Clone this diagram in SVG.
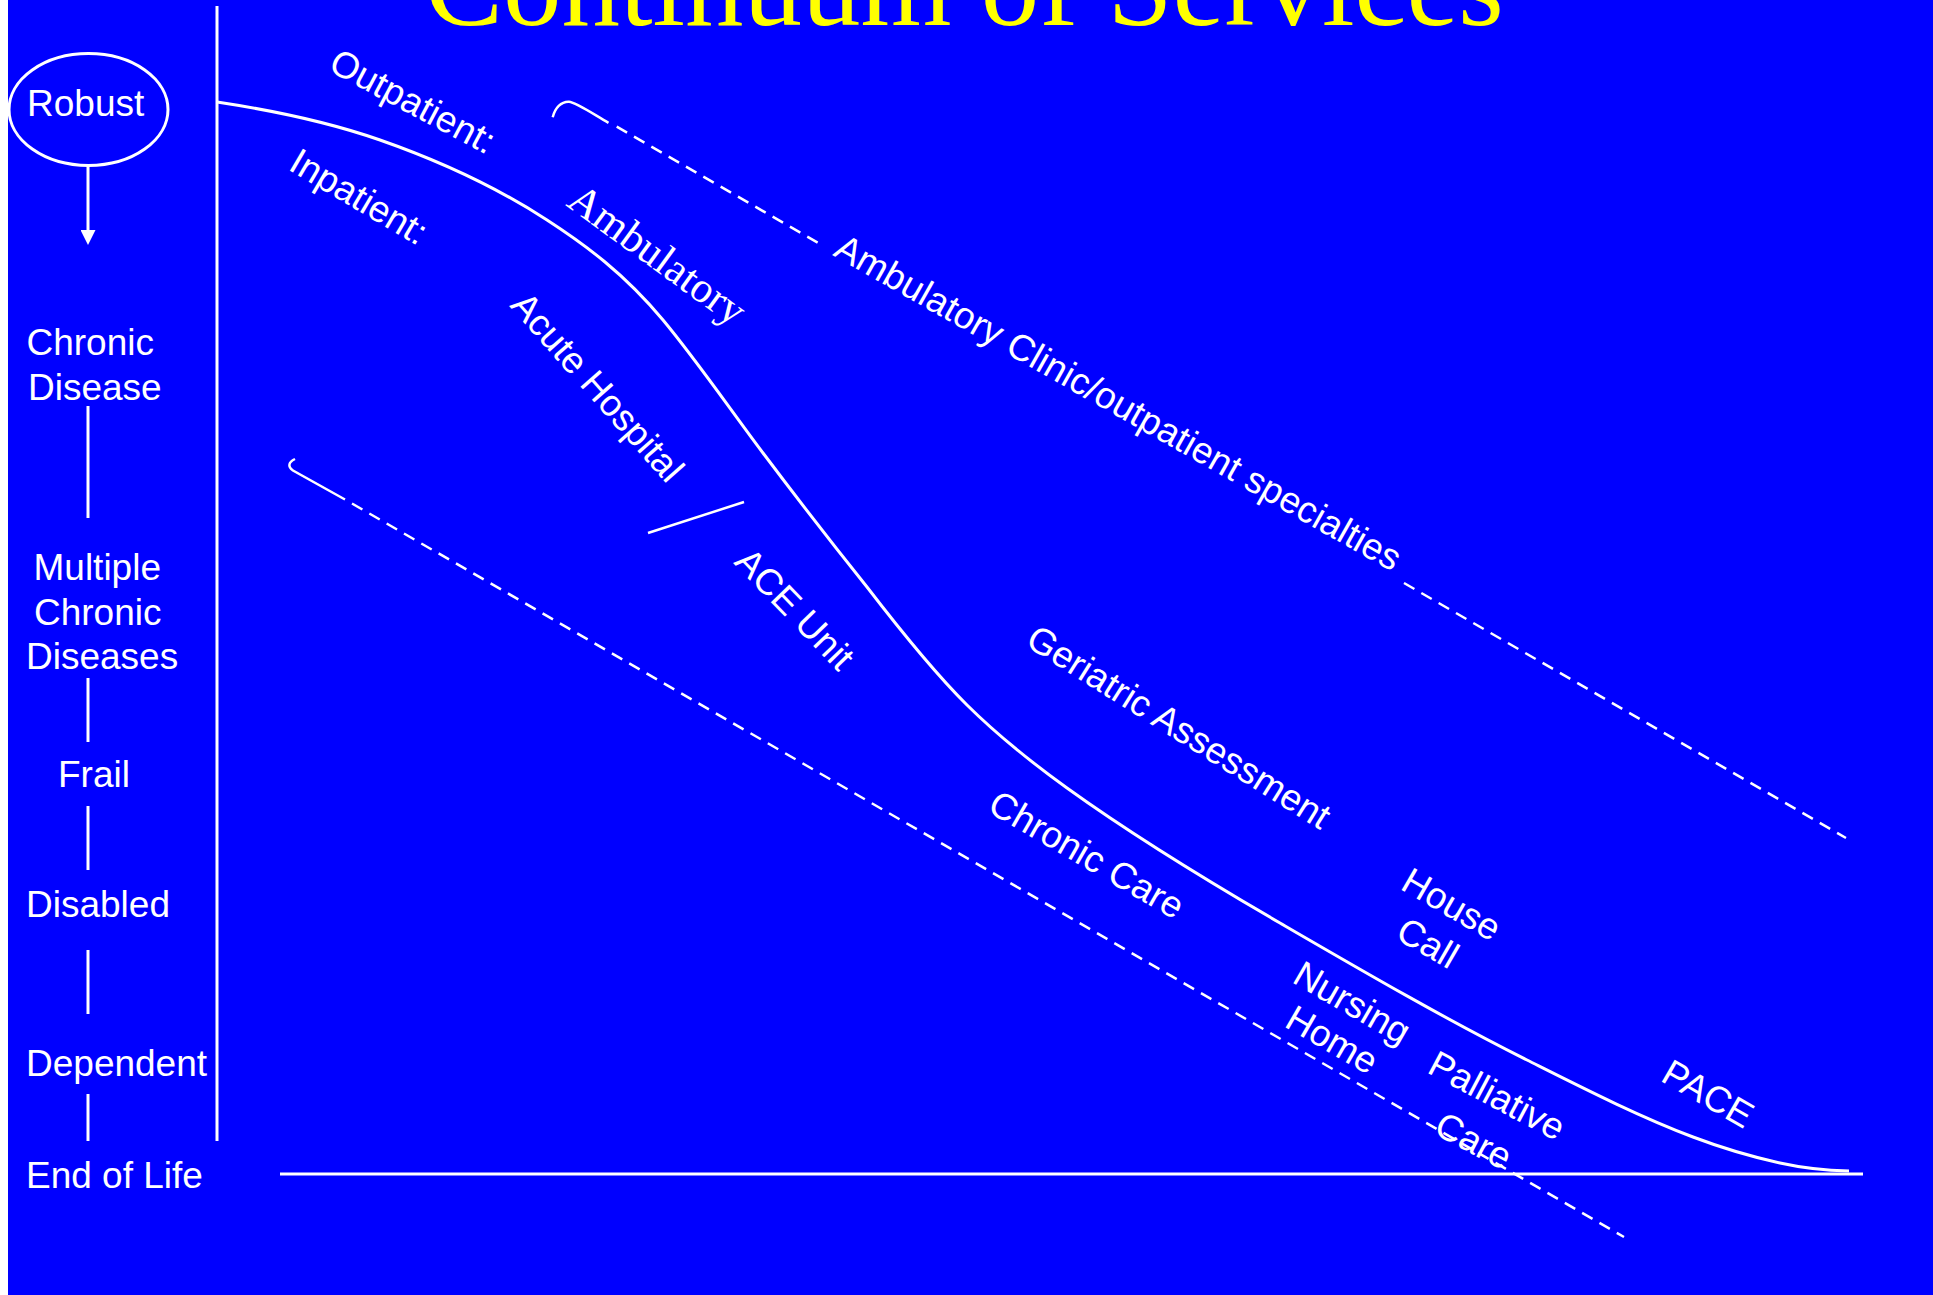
<svg xmlns="http://www.w3.org/2000/svg" width="1933" height="1295" viewBox="0 0 1933 1295">
  <defs>
    <style>
      .bg { fill: #0000FF; }
      .lbl { font-family: "Liberation Sans", Arial, sans-serif; font-size: 37px; fill: #FFFFFF; }
      .serif { font-family: "Liberation Serif", "Times New Roman", serif; fill: #FFFFFF; }
      .title { font-family: "Liberation Serif", "Times New Roman", serif; font-size: 117px; fill: #FFFF00; }
      .solid { stroke: #FFFFFF; stroke-width: 3; fill: none; stroke-linecap: butt; }
      .thin { stroke: #FFFFFF; stroke-width: 2.5; fill: none; }
      .dash { stroke: #FFFFFF; stroke-width: 2.5; fill: none; stroke-dasharray: 12 8; }
    </style>
    <marker id="arrow" viewBox="0 0 16 15" markerWidth="16" markerHeight="15" refX="0" refY="7.5" orient="auto" markerUnits="userSpaceOnUse">
      <path d="M0,0 L15,7.5 L0,15 z" fill="#FFFFFF"/>
    </marker>
  </defs>

  <rect x="0" y="0" width="1933" height="1295" fill="#FFFFFF"/>
  <rect class="bg" x="8" y="0" width="1925" height="1295"/>

  <g id="title">
    <text class="title" x="425" y="25">Continuum of Services</text>
  </g>

  <g id="chart">
    <line class="solid" x1="217" y1="6" x2="217" y2="1141"/>
    <line class="solid" x1="280" y1="1174" x2="1863" y2="1174"/>
    <path id="decline-curve" class="solid" d="M217,102 C271.3,110.2 325.7,121 380,140 C435.7,159.5 491.3,183.8 547,220 C585.7,245.1 624.3,273.6 663,320 C696.3,360 729.7,408.7 763,453 C797.7,499.1 832.3,543.7 867,587 C900.3,630.3 933.7,672 967,705 C1000.3,738 1033.7,764 1067,788 C1138,839.1 1209,881.8 1280,923 C1362.3,970.8 1444.7,1018.8 1527,1060 C1582.3,1087.7 1637.7,1116 1693,1137 C1722,1148 1751,1156.6 1780,1163 C1803,1168.1 1826,1170.5 1849,1171"/>
  </g>

  <g id="connectors">
    <line class="solid" x1="88" y1="166" x2="88" y2="230" marker-end="url(#arrow)"/>
    <line class="solid" x1="88" y1="406" x2="88" y2="518"/>
    <line class="solid" x1="88" y1="678" x2="88" y2="742"/>
    <line class="solid" x1="88" y1="806" x2="88" y2="870"/>
    <line class="solid" x1="88" y1="950" x2="88" y2="1014"/>
    <line class="solid" x1="88" y1="1094" x2="88" y2="1141"/>
    <path class="thin" d="M552.7,117.3 C555,108 561,101.5 569,101.8 C575,102 590,112 608.5,122.8"/>
    <path class="dash" d="M616.7,126.7 L820,244"/>
    <path class="dash" d="M1404,583 L1846,838"/>
    <path class="thin" d="M295,459 C289,462 287,466 293,470.5 L345,499.5"/>
    <path class="dash" d="M352,503.5 L1624,1237"/>
    <line class="thin" x1="648" y1="533" x2="744" y2="502"/>
  </g>

  <g id="robust">
    <ellipse cx="88.5" cy="109.5" rx="79.5" ry="56" fill="none" stroke="#FFFFFF" stroke-width="3"/>
    <text class="lbl" x="27" y="116">Robust</text>
  </g>
  <g id="chronic-disease">
    <text class="lbl" x="26.5" y="355">Chronic</text>
    <text class="lbl" x="28" y="400">Disease</text>
  </g>
  <g id="multiple-chronic-diseases">
    <text class="lbl" x="33.5" y="580">Multiple</text>
    <text class="lbl" x="34" y="625">Chronic</text>
    <text class="lbl" x="26" y="669">Diseases</text>
  </g>
  <g id="frail"><text class="lbl" x="58" y="787">Frail</text></g>
  <g id="disabled"><text class="lbl" x="26" y="917">Disabled</text></g>
  <g id="dependent"><text class="lbl" x="26" y="1076">Dependent</text></g>
  <g id="end-of-life"><text class="lbl" x="26" y="1188">End of Life</text></g>

  <g id="outpatient"><text class="lbl" transform="translate(327,70) rotate(28)">Outpatient:</text></g>
  <g id="inpatient"><text class="lbl" transform="translate(287,169) rotate(30.5)">Inpatient:</text></g>
  <g id="ambulatory"><text class="serif" font-size="43" transform="translate(565,205) rotate(36)">Ambulatory</text></g>
  <g id="ambulatory-clinic"><text class="lbl" transform="translate(832,255) rotate(29.5)">Ambulatory Clinic/outpatient specialties</text></g>
  <g id="acute-hospital"><text class="lbl" transform="translate(509,306) rotate(48.5)">Acute Hospital</text></g>
  <g id="ace-unit"><text class="lbl" transform="translate(733,563) rotate(46)">ACE Unit</text></g>
  <g id="geriatric-assessment"><text class="lbl" transform="translate(1024,645) rotate(32)">Geriatric Assessment</text></g>
  <g id="chronic-care"><text class="lbl" transform="translate(986,811) rotate(30)">Chronic Care</text></g>
  <g id="house-call">
    <text class="lbl" transform="translate(1399,888.5) rotate(30)">House</text>
    <text class="lbl" transform="translate(1394,938) rotate(30)">Call</text>
  </g>
  <g id="nursing-home">
    <text class="lbl" transform="translate(1290.7,981.8) rotate(30)">Nursing</text>
    <text class="lbl" transform="translate(1283,1026) rotate(30)">Home</text>
  </g>
  <g id="palliative-care">
    <text class="lbl" transform="translate(1425.7,1071.9) rotate(28)">Palliative</text>
    <text class="lbl" transform="translate(1432.3,1133) rotate(28)">Care</text>
  </g>
  <g id="pace"><text class="lbl" font-size="36" transform="translate(1659.3,1080.3) rotate(30)">PACE</text></g>
</svg>
